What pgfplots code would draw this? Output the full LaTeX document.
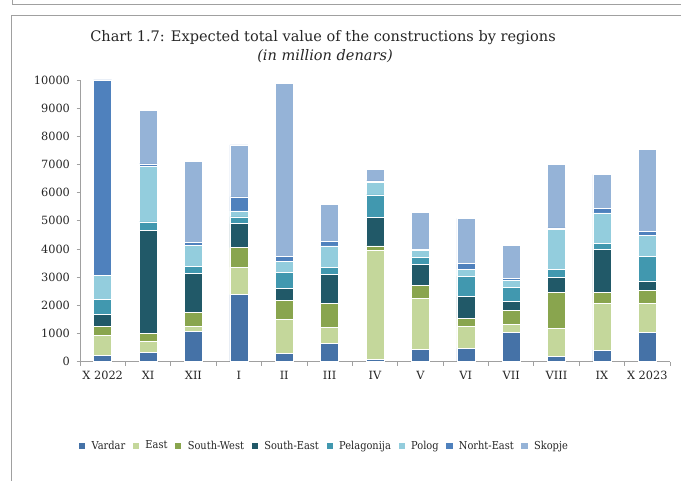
\documentclass[border=0pt]{standalone}
\usepackage{fontspec}
\setmainfont{DejaVu Serif}
\newfontfamily\legfont[FakeStretch=0.9]{DejaVu Serif}
\usepackage{pgfplots}
\pgfplotsset{compat=1.18}
\usepackage{pgfplotstable}

\definecolor{cVardar}{HTML}{4572A7}
\definecolor{cEast}{HTML}{C4D79B}
\definecolor{cSW}{HTML}{89A54E}
\definecolor{cSE}{HTML}{215968}
\definecolor{cPel}{HTML}{4198AF}
\definecolor{cPolog}{HTML}{93CDDD}
\definecolor{cNE}{HTML}{4F81BD}
\definecolor{cSkopje}{HTML}{95B3D7}
\definecolor{frame}{HTML}{A0A0A0}

\pgfplotstableread{
x Vardar East SW SE Pel Polog NE Skopje
0 237 710 319 403 544 864 6923 0
1 343 391 272 3645 308 1964 95 1893
2 1077 189 497 1361 272 722 107 2876
3 2379 982 686 852 237 213 497 1846
4 308 1207 651 426 568 402 166 6154
5 663 568 852 1006 272 746 177 1290
6 95 3846 166 1005 805 450 47 403
7 450 1810 438 769 249 225 59 1290
8 473 793 261 804 710 237 201 1610
9 1030 307 485 308 521 248 71 1160
10 201 994 1278 509 284 1420 60 2260
11 414 1657 379 1526 213 1089 154 1219
12 1053 1018 450 331 876 745 142 2923
}\datatable

\begin{document}
\begin{tikzpicture}[x=0.75pt,y=0.75pt]
\path[use as bounding box] (0,0) rectangle (681,481);
\draw[frame, line width=0.75pt] (12,481) -- (12,476) -- (681,476);
\draw[frame, line width=0.75pt] (681,465) -- (11,465) -- (11,0);
\node[font=\fontsize{10.9}{12}\selectfont, text=black!85] at (323,443) {Chart 1.7: Expected total value of the constructions by regions};
\node[font=\itshape\fontsize{10.9}{12}\selectfont, text=black!85] at (325,425) {(in million denars)};
\begin{axis}[
  at={(60pt,89.475pt)}, anchor=south west,
  scale only axis, width=442.5pt, height=211.3pt,
  ybar stacked, bar width=13.5pt,
  xmin=-0.5, xmax=12.5, ymin=0, ymax=10000,
  axis x line*=bottom, axis y line*=left,
  axis line style={frame, line width=0.6pt},
  xtick={0,...,12},
  xticklabels={X 2022,XI,XII,I,II,III,IV,V,VI,VII,VIII,IX,X 2023},
  minor xtick={-0.5,0.5,...,12.5},
  major x tick style={draw=none},
  minor tick length=3pt,
  ytick={0,1000,...,10000},
  major tick length=2.5pt,
  tick align=outside,
  tick style={frame, line width=0.6pt},
  /pgf/number format/assume math mode=true,
  /pgf/number format/1000 sep={},
  scaled y ticks=false,
  tick label style={font=\fontsize{8.5}{10}\selectfont, text=black!85},
  yticklabel style={xshift=-1.5pt},
  xticklabel style={yshift=-1pt},
  legend columns=8,
  legend style={at={(0.414,-0.299)}, anchor=center, draw=none,
    font=\legfont\fontsize{8.2}{10}\selectfont, text=black!85,
    inner xsep=0pt,
    /tikz/every even column/.append style={column sep=3pt},
    /tikz/every odd column/.append style={column sep=2.5pt}},
  legend image code/.code={\fill[#1] (0pt,-2.7pt) rectangle (5.4pt,2.7pt);},
  every axis plot/.append style={draw=white, line width=0.3pt},
]
\addplot[fill=cVardar] table[x=x,y=Vardar]{\datatable};
\addplot[fill=cEast] table[x=x,y=East]{\datatable};
\addplot[fill=cSW] table[x=x,y=SW]{\datatable};
\addplot[fill=cSE] table[x=x,y=SE]{\datatable};
\addplot[fill=cPel] table[x=x,y=Pel]{\datatable};
\addplot[fill=cPolog] table[x=x,y=Polog]{\datatable};
\addplot[fill=cNE] table[x=x,y=NE]{\datatable};
\addplot[fill=cSkopje] table[x=x,y=Skopje]{\datatable};
\legend{Vardar,East,South-West,South-East,Pelagonija,Polog,Norht-East,Skopje}
\end{axis}
\end{tikzpicture}
\end{document}
